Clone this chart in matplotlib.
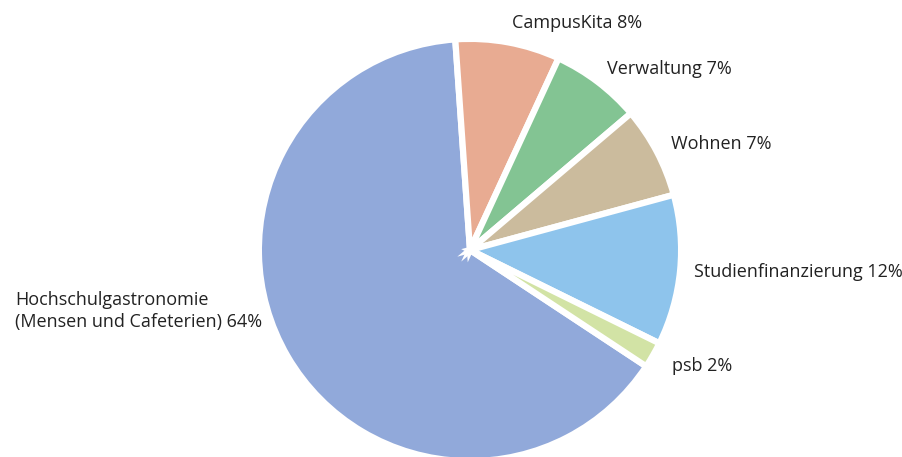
import numpy as np
import matplotlib
matplotlib.use("Agg")
import matplotlib.pyplot as plt

plt.rcParams['font.family'] = ['Open Sans', 'DejaVu Sans']

# Anteile (im Uhrzeigersinn ab oben gelesen)
labels = ["Hochschulgastronomie\n(Mensen und Cafeterien) 64%", "CampusKita 8%",
          "Verwaltung 7%", "Wohnen 7%", "Studienfinanzierung 12%", "psb 2%"]
werte = [64.6, 8.0, 6.9, 7.0, 11.5, 2.0]
farben = ["#91a9da", "#e8ab92", "#83c493", "#cbbb9d", "#8ec4ec", "#d2e3a5"]

# Start: Grenze Hochschulgastronomie / CampusKita oben
start = 94 + werte[0] / 100 * 360

fig = plt.figure(figsize=(9.03, 4.57), dpi=100)
ax = fig.add_axes([0, 0, 1, 1])
wedges, _ = ax.pie(werte, colors=farben, startangle=start, counterclock=False,
                   radius=1.015,
                   wedgeprops=dict(edgecolor="white", linewidth=4.5))

# Beschriftungen neben den Segmenten
abstand = [1.04, 1.11, 1.09, 1.09, 1.08, 1.12]
winkel_korr = [-14, 0, 0, 0, 0, 0]
for w, lab, d, k in zip(wedges, labels, abstand, winkel_korr):
    mitte = np.deg2rad((w.theta1 + w.theta2) / 2 + k)
    x, y = d * np.cos(mitte), d * np.sin(mitte)
    ha = "left" if x > 0 else "right"
    ax.text(x, y, lab, ha=ha, va="center", fontsize=13, color="#222222",
            linespacing=1.3, multialignment="left")

r = 208.0
ax.set_xlim(-470 / r, (903 - 470) / r)
ax.set_ylim(-(457 - 250) / r, 250 / r)
ax.set_axis_off()

fig.savefig("out.png", dpi=100)
